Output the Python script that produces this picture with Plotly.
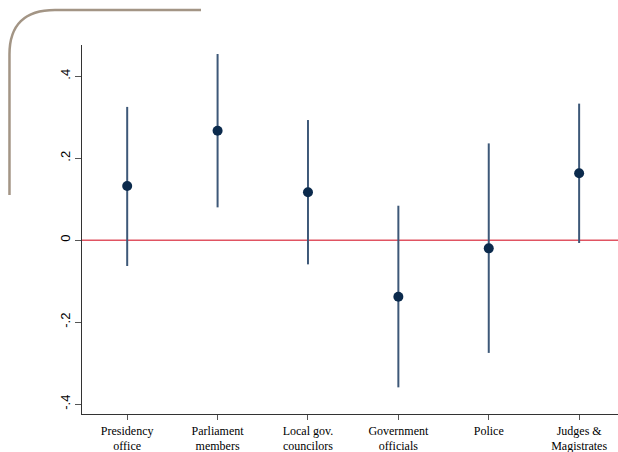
import plotly.graph_objects as go

categories = ["Presidency<br>office", "Parliament<br>members", "Local gov.<br>councilors",
              "Government<br>officials", "Police", "Judges &<br>Magistrates"]
estimate = [0.132, 0.267, 0.117, -0.138, -0.020, 0.163]
ci_upper = [0.325, 0.454, 0.293, 0.084, 0.236, 0.333]
ci_lower = [-0.063, 0.080, -0.059, -0.359, -0.275, -0.007]
y_ticks = [-0.4, -0.2, 0, 0.2, 0.4]
y_ticklabels = ["-.4", "-.2", "0", ".2", ".4"]

err_plus = [u - e for u, e in zip(ci_upper, estimate)]
err_minus = [e - l for e, l in zip(estimate, ci_lower)]

fig = go.Figure()
fig.add_trace(go.Scatter(
    x=categories, y=estimate, mode="markers",
    marker=dict(color="#0b2a4c", size=10),
    error_y=dict(type="data", array=err_plus, arrayminus=err_minus,
                 symmetric=False, width=0, thickness=2, color="#3d5878"),
    showlegend=False,
))

fig.add_shape(type="line", xref="paper", yref="y", x0=0, x1=1, y0=0, y1=0,
              line=dict(color="#e05462", width=1.5), layer="below")

# decorative rounded corner frame (top-left)
fig.add_shape(type="path", xref="paper", yref="paper",
              path="M -0.1353,0.5935 L -0.1353,0.975 Q -0.1353,1.0949 -0.0504,1.0949 L 0.222,1.0949",
              line=dict(color="#a39585", width=2.5))

fig.update_layout(
    width=618, height=452,
    margin=dict(l=82, r=0, t=45, b=38, autoexpand=False),
    plot_bgcolor="white", paper_bgcolor="white",
    xaxis=dict(range=[-0.5, 5.43], showgrid=False, zeroline=False,
               showline=True, linecolor="#333333", linewidth=1.2,
               ticks="outside", ticklen=5, tickcolor="#555555", automargin=False,
               tickfont=dict(family="Liberation Serif", size=12, color="black")),
    yaxis=dict(range=[-0.424, 0.476], showgrid=False, zeroline=False,
               showline=True, linecolor="#333333", linewidth=1.2,
               ticks="outside", ticklen=6, tickcolor="#555555", automargin=False,
               tickvals=y_ticks, ticktext=y_ticklabels, tickangle=-90,
               tickfont=dict(family="Liberation Sans", size=13, color="black")),
)

fig.write_html("out.html", config={"displayModeBar": False},
               post_script="document.body.style.margin='0';document.body.style.overflow='hidden';")
